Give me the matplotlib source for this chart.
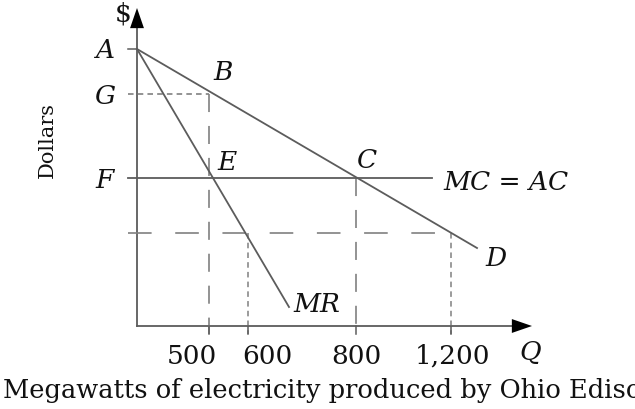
import matplotlib.pyplot as plt

plt.rcParams['lines.scale_dashes'] = False

# schematic positions along the Q axis (origin at 0) and their labels
q_labels = ['500', '600', '800', '1,200']
q_pos = [72, 111, 219, 314]

# price levels on the $ axis
price_labels = ['A', 'G', 'F']
price_levels = [277, 232, 148]
low_price = 93

# demand curve (A -> D) and marginal revenue (A -> MR)
demand_x = [0, 340]
demand_y = [277, 78]
mr_x = [0, 152]
mr_y = [277, 19]

# MC = AC line
mc_x = [-9, 295]
mc_y = [148, 148]

x_end = 395
y_end = 318

line_col = '#5c5c5c'
dash_col = '#808080'
txt_col = '#111111'
serif = 'DejaVu Serif'

fig = plt.figure(figsize=(6.35, 4.09), dpi=100)
ax = fig.add_axes([0, 0, 1, 1])
ax.set_xlim(-137, 498)
ax.set_ylim(-83, 326)
ax.axis('off')

# axes
ax.plot([0, x_end - 18], [0, 0], color=line_col, lw=1.3)
ax.plot([0, 0], [0, y_end - 18], color=line_col, lw=1.3)
arrow = dict(arrowstyle='-|>,head_length=1.45,head_width=0.5', color='black',
             lw=0, mutation_scale=10, shrinkA=0, shrinkB=0)
ax.annotate('', xy=(x_end, 0), xytext=(x_end - 20, 0), arrowprops=arrow)
ax.annotate('', xy=(0, y_end), xytext=(0, y_end - 20), arrowprops=arrow)

# dashed guide lines
short = (0, (4, 3))
long = (0, (13, 10))
ax.plot([-9, q_pos[0]], [price_levels[1], price_levels[1]], color=dash_col, lw=1.2, ls=short)
ax.plot([q_pos[0], q_pos[0]], [price_levels[1], -8], color=dash_col, lw=1.2, ls=long)
ax.plot([q_pos[1], q_pos[1]], [low_price, -8], color=dash_col, lw=1.1, ls=short)
ax.plot([q_pos[2], q_pos[2]], [price_levels[2], -8], color=dash_col, lw=1.2, ls=long)
ax.plot([q_pos[3], q_pos[3]], [low_price, -8], color=dash_col, lw=1.1, ls=short)
ax.plot([-9, q_pos[3]], [low_price, low_price], color=dash_col, lw=1.2, ls=(0, (17, 17)))

# ticks
for q in q_pos:
    ax.plot([q, q], [0, -8], color=line_col, lw=1.1)
ax.plot([-9, 0], [price_levels[0], price_levels[0]], color=line_col, lw=1.1)

# curves
ax.plot(demand_x, demand_y, color=line_col, lw=1.3)
ax.plot(mr_x, mr_y, color=line_col, lw=1.3)
ax.plot(mc_x, mc_y, color=line_col, lw=1.3)

fs = 19
it = dict(fontsize=fs, family=serif, style='italic', color=txt_col, va='center')

# price labels
for lab, lev in zip(price_labels, price_levels):
    ax.text(-32, lev - 2, lab, ha='center', **it)

# point labels
ax.text(q_pos[0] + 14, 253, 'B', ha='center', **it)
ax.text(q_pos[0] + 18, 164, 'E', ha='center', **it)
ax.text(q_pos[2] + 11, 166, 'C', ha='center', **it)
ax.text(mc_x[1] + 11, 144, 'MC = AC', ha='left', **it)
ax.text(demand_x[1] + 8, 68, 'D', ha='left', **it)
ax.text(mr_x[1] + 4, 21, 'MR', ha='left', **it)
ax.text(x_end - 2, -27, 'Q', ha='center', **it)
ax.text(-14, 312, '$', ha='center', va='center', fontsize=19, family=serif, color=txt_col)

# quantity tick labels
q_ha = ['right', 'left', 'center', 'center']
q_dx = [8, -6, 0, 2]
for lab, q, ha, dx in zip(q_labels, q_pos, q_ha, q_dx):
    ax.text(q + dx, -30, lab, ha=ha, va='center', fontsize=fs, family=serif, color=txt_col)

ax.text(-90, 186, 'Dollars', rotation=90, ha='center', va='center',
        fontsize=15, family=serif, color=txt_col)
ax.text(-134, -72, 'Megawatts of electricity produced by Ohio Edison', ha='left',
        va='baseline', fontsize=18.5, family=serif, color=txt_col)

fig.savefig('out.png', dpi=100)
